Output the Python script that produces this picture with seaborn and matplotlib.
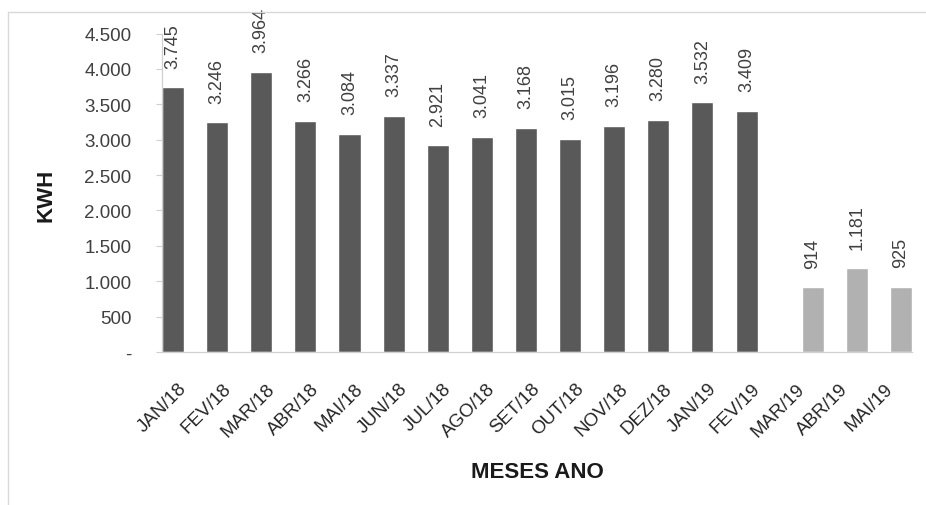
import matplotlib
matplotlib.use("Agg")
import matplotlib.pyplot as plt
from matplotlib.lines import Line2D
from matplotlib.transforms import ScaledTranslation
import seaborn as sns
import pandas as pd

meses = ["JAN/18", "FEV/18", "MAR/18", "ABR/18", "MAI/18", "JUN/18", "JUL/18",
         "AGO/18", "SET/18", "OUT/18", "NOV/18", "DEZ/18", "JAN/19", "FEV/19",
         "MAR/19", "ABR/19", "MAI/19"]
meses_antes = meses[:14]
kwh_antes = [3745, 3246, 3964, 3266, 3084, 3337, 2921, 3041, 3168, 3015, 3196, 3280, 3532, 3409]
meses_depois = ["MAR/19", "ABR/19", "MAI/19"]
kwh_depois = [914, 1181, 925]
y_ticks = [0, 500, 1000, 1500, 2000, 2500, 3000, 3500, 4000, 4500]
y_tick_labels = ["-", "500", "1.000", "1.500", "2.000", "2.500", "3.000", "3.500", "4.000", "4.500"]

series = ["Antes", "Depois"]
df = pd.DataFrame({
    "mes": meses_antes + meses_depois,
    "kwh": kwh_antes + kwh_depois,
    "serie": [series[0]] * len(meses_antes) + [series[1]] * len(meses_depois),
})

sns.set_theme(style="white")
plt.rcParams["font.family"] = ["Liberation Sans", "DejaVu Sans"]

W, H = 926, 506
fig = plt.figure(figsize=(W / 100, H / 100), dpi=100)
ax = fig.add_axes([162 / W, 1 - 353 / H, (912 - 162) / W, (353 - 34.6) / H])

sns.barplot(data=df, x="mes", y="kwh", hue="serie", order=meses, hue_order=series,
            palette=["#595959", "#b1b1b1"], width=1.0, dodge=True, gap=0,
            saturation=1, legend=False, ax=ax, errorbar=None)

ax.set_xlim(-0.5, len(meses) - 0.5)
ax.set_ylim(0, 4500)
ax.set_yticks(y_ticks)
ax.set_yticklabels(y_tick_labels)

fmt = lambda v: f"{int(round(v)):,}".replace(",", ".")
for cont in ax.containers:
    labels = [fmt(b.get_height()) if b.get_height() > 0 else "" for b in cont]
    ax.bar_label(cont, labels=labels, rotation=90, padding=14, fontsize=13,
                 color="#404040")

ax.tick_params(axis="y", length=4, width=0.8, color="#d0d0d0", pad=18,
               labelsize=13.5, labelcolor="#404040", left=True)
ax.tick_params(axis="x", length=0, pad=20, labelsize=13.5, labelcolor="#262626")
shift = ScaledTranslation(-6 / 100, 0, fig.dpi_scale_trans)
for lab in ax.get_xticklabels():
    lab.set_rotation(45)
    lab.set_ha("right")
    lab.set_rotation_mode("anchor")
    lab.set_transform(lab.get_transform() + shift)

for s in ["top", "right"]:
    ax.spines[s].set_visible(False)
for s in ["left", "bottom"]:
    ax.spines[s].set_color("#d0d0d0")
    ax.spines[s].set_linewidth(0.9)

ax.set_xlabel("")
ax.set_ylabel("")
fig.text(537 / W, 1 - 473 / H, "MESES ANO", ha="center", va="center",
         fontsize=16, fontweight="bold", color="#1a1a1a")
fig.text(46 / W, 1 - 195 / H, "KWH", ha="center", va="center", rotation=90,
         fontsize=16, fontweight="bold", color="#1a1a1a")

fig.add_artist(Line2D([8 / W, 8 / W], [0, 1 - 13 / H], transform=fig.transFigure,
                      color="#d9d9d9", lw=1))
fig.add_artist(Line2D([8 / W, 1], [1 - 13 / H, 1 - 13 / H], transform=fig.transFigure,
                      color="#d9d9d9", lw=1))

fig.savefig("out.png", dpi=100, facecolor="white")
